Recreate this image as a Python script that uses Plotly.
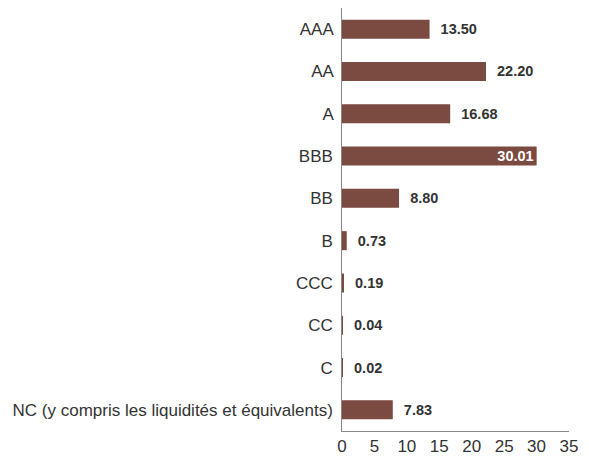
import plotly.graph_objects as go

categories = ["AAA", "AA", "A", "BBB", "BB", "B", "CCC", "CC", "C",
              "NC (y compris les liquidités et équivalents)"]
values = [13.50, 22.20, 16.68, 30.01, 8.80, 0.73, 0.19, 0.04, 0.02, 7.83]
x_ticks = [0, 5, 10, 15, 20, 25, 30, 35]

FONT = "Liberation Sans, Arial, sans-serif"

positions = ["inside" if v > 25 else "outside" for v in values]
texts = [f"{v:.2f}" if v > 25 else "\u00a0\u00a0" + f"{v:.2f}" for v in values]
text_colors = ["#ffffff" if v > 25 else "#333333" for v in values]

fig = go.Figure(go.Bar(
    x=values,
    y=categories,
    orientation="h",
    marker=dict(color="#7B4A40", line=dict(width=0)),
    text=texts,
    textposition=positions,
    insidetextanchor="end",
    constraintext="none",
    textfont=dict(family=FONT, size=14.5, color=text_colors, weight="bold"),
    cliponaxis=False,
    hoverinfo="skip",
))

fig.update_layout(
    width=589, height=461,
    margin=dict(l=342, r=20, t=8, b=30),
    paper_bgcolor="white", plot_bgcolor="white",
    bargap=0.55,
    showlegend=False,
    font=dict(family=FONT, size=17, color="#333333"),
)
fig.update_xaxes(
    range=[0, 35], tickvals=x_ticks, showgrid=False, zeroline=False,
    showline=True, linecolor="#888888", linewidth=1, ticks="",
    automargin=False,
    tickfont=dict(family=FONT, size=17, color="#333333"),
)
fig.update_yaxes(
    categoryorder="array", categoryarray=categories[::-1],
    showgrid=False, zeroline=False,
    showline=True, linecolor="#888888", linewidth=1, ticks="",
    ticksuffix=" ", automargin=False,
    tickfont=dict(family=FONT, size=17, color="#333333"),
)

fig.write_html("out.html", config={"displayModeBar": False},
               post_script="document.body.style.margin='0';")
